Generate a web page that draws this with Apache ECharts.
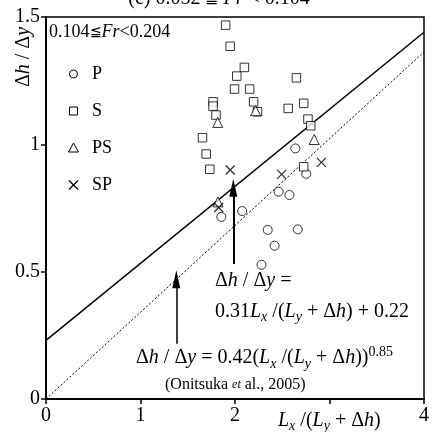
<!DOCTYPE html>
<html><head><meta charset="utf-8">
<script src="https://cdn.jsdelivr.net/npm/echarts@6/dist/echarts.min.js"></script>
<style>html,body{margin:0;padding:0;background:#fff}#c{width:432px;height:432px}</style>
</head><body><div id="c"></div>
<script>
// ---- data ----
const xTickLabels = ['0', '1', '2', '', '4'];
const yTickLabels = ['0', '0.5', '1', '1.5'];
const seriesNames = ['P', 'S', 'PS', 'SP'];
const pData = [[2.639,0.984],[2.754,0.884],[2.461,0.814],[2.576,0.801],[2.076,0.738],[1.855,0.715],[2.346,0.664],[2.664,0.666],[2.419,0.602],[2.280,0.527]];
const sData = [[1.901,1.468],[1.949,1.385],[2.099,1.302],[2.019,1.268],[1.995,1.217],[2.155,1.217],[2.650,1.261],[1.768,1.167],[1.768,1.150],[2.197,1.167],[1.799,1.115],[2.238,1.128],[2.563,1.141],[2.727,1.161],[2.772,1.099],[2.801,1.073],[1.656,1.026],[1.695,0.962],[1.733,0.902],[2.727,0.912]];
const psData = [[1.817,1.086],[2.218,1.132],[2.838,1.019],[1.820,0.774]];
const spData = [[1.949,0.899],[2.493,0.882],[2.914,0.929],[1.827,0.752]];
const fitLine = [[0,0.23],[4,1.44]];
const onitsukaLine = [[0,0],[4,1.363]];
const arrow1 = [[1.982,0.53],[1.982,0.83]];
const arrow2 = [[1.379,0.217],[1.379,0.47]];

const FF = '"Liberation Serif","Times New Roman",serif';
function tok(size, italic, va, lh){
  return {fontFamily:FF, fontSize:size, fontStyle: italic?'italic':'normal', verticalAlign: va||'middle', lineHeight: lh||size, fill:'#000'};
}
function mathRich(size, lh){
  return {
    n: tok(size,false,'middle',lh),
    i: tok(size,true,'middle',lh),
    sub: tok(Math.round(size*0.68),true,'bottom',Math.round(size*0.68)),
    sup: tok(Math.round(size*0.68),false,'top',Math.round(size*0.68)),
    si: tok(Math.round(size*0.75),true,'middle',lh),
    le: {fontFamily:'"DejaVu Serif",serif', fontSize:Math.round(size*0.78), fontWeight:'normal', verticalAlign:'middle', lineHeight:lh, fill:'#000'}
  };
}
function txt(x, y, text, size, lh, align, rot){
  const el = {
    type:'text', x:x, y:y, z:100, silent:true,
    style:{text:text, fontFamily:FF, fontSize:size, lineHeight:lh, fill:'#000',
      textAlign:align||'left', textVerticalAlign:'middle', rich: mathRich(size, lh)}
  };
  if (rot) el.rotation = rot;
  return el;
}

// legend keys drawn next to the series names
const legendX = 73.5, legendTextX = 92, legendY0 = 74, legendStep = 37;
const markStyle = {fill:'#fff', stroke:'#000', lineWidth:1};
function legendKey(idx){
  const cy = legendY0 + idx*legendStep, cx = legendX;
  let shape;
  if (idx === 0) shape = {type:'circle', shape:{cx:cx, cy:cy, r:4}, style:markStyle};
  else if (idx === 1) shape = {type:'rect', shape:{x:cx-4, y:cy-4, width:8, height:8}, style:markStyle};
  else if (idx === 2) shape = {type:'polygon', shape:{points:[[cx,cy-5],[cx+5,cy+4],[cx-5,cy+4]]}, style:markStyle};
  else shape = {type:'group', children:[
    {type:'line', shape:{x1:cx-4.5,y1:cy-4.5,x2:cx+4.5,y2:cy+4.5}, style:{stroke:'#000', lineWidth:1.3}},
    {type:'line', shape:{x1:cx-4.5,y1:cy+4.5,x2:cx+4.5,y2:cy-4.5}, style:{stroke:'#000', lineWidth:1.3}}]};
  shape.silent = true; shape.z = 100;
  return [shape, {type:'text', x:legendTextX, y:cy, z:100, silent:true,
    style:{text:seriesNames[idx], fontFamily:FF, fontSize:18, fill:'#000', textAlign:'left', textVerticalAlign:'middle'}}];
}

const chart = echarts.init(document.getElementById('c'), null, {renderer:'canvas'});
const axisFont = {fontFamily:FF, fontSize:20, color:'#000'};
const crossPath = 'path://M0,0L10,10M0,10L10,0';

const option = {
  animation:false,
  backgroundColor:'#fff',
  grid:{left:46, right:4, top:17, bottom:33, show:true, borderColor:'#000', borderWidth:1.5, backgroundColor:'transparent'},
  xAxis:{type:'value', min:0, max:4, interval:1,
    axisLine:{lineStyle:{color:'#000', width:2}},
    axisTick:{inside:false, length:5, lineStyle:{color:'#000', width:1.5}},
    axisLabel:Object.assign({margin:7, formatter:(v)=>xTickLabels[Math.round(v)]}, axisFont),
    splitLine:{show:false}},
  yAxis:{type:'value', min:0, max:1.5, interval:0.5,
    axisLine:{lineStyle:{color:'#000', width:2}},
    axisTick:{inside:false, length:5, lineStyle:{color:'#000', width:1.5}},
    axisLabel:Object.assign({margin:6, formatter:(v)=>yTickLabels[Math.round(v*2)]}, axisFont),
    splitLine:{show:false}},
  legend:{show:false, data:seriesNames},
  series:[
    {name:'P', type:'scatter', symbol:'circle', symbolSize:9, data:pData,
      itemStyle:{color:'#fff', borderColor:'#000', borderWidth:1}, z:5},
    {name:'S', type:'scatter', symbol:'rect', symbolSize:8.5, data:sData,
      itemStyle:{color:'#fff', borderColor:'#000', borderWidth:1}, z:5},
    {name:'PS', type:'scatter', symbol:'triangle', symbolSize:10, data:psData,
      itemStyle:{color:'#fff', borderColor:'#000', borderWidth:1}, z:5},
    {name:'SP', type:'scatter', symbol:crossPath, symbolSize:9, data:spData,
      itemStyle:{color:'rgba(0,0,0,0)', borderColor:'#000', borderWidth:1.3}, z:5},
    {name:'fit', type:'line', data:fitLine, symbol:'none', silent:true,
      lineStyle:{color:'#000', width:1.5}, z:3,
      markLine:{silent:true, symbol:['none','triangle'], symbolSize:[8,18], label:{show:false},
        lineStyle:{color:'#000', width:2, type:'solid'}, emphasis:{disabled:true},
        data:[[{coord:arrow1[0], symbol:'none'},{coord:arrow1[1], symbol:'triangle', symbolSize:[8,18]}]]}},
    {name:'onitsuka', type:'line', data:onitsukaLine, symbol:'none', silent:true,
      lineStyle:{color:'#000', width:1, type:[2,2]}, z:3,
      markLine:{silent:true, symbol:['none','triangle'], symbolSize:[8,18], label:{show:false},
        lineStyle:{color:'#000', width:1.5, type:'solid'}, emphasis:{disabled:true},
        data:[[{coord:arrow2[0], symbol:'none'},{coord:arrow2[1], symbol:'triangle', symbolSize:[8,18]}]]}}
  ],
  graphic:[
    txt(219, -1, '(c) 0.052 {le|≦} {i|Fr} < 0.104', 20, 22, 'center'),
    txt(49, 32, '0.104{le|≦}{i|Fr}<0.204', 18, 22),
    txt(24, 57, 'Δ{i|h} / Δ{i|y}', 20, 22, 'center', Math.PI/2),
    txt(215, 281, 'Δ{i|h} / Δ{i|y} =', 20, 24),
    txt(215, 312, '0.31{i|L}{sub|x} /({i|L}{sub|y} + Δ{i|h}) + 0.22', 20, 24),
    txt(136, 358, 'Δ{i|h} / Δ{i|y} = 0.42({i|L}{sub|x} /({i|L}{sub|y} + Δ{i|h})){sup|0.85}', 20, 26),
    txt(165, 385, '(Onitsuka {si|et} al., 2005)', 16, 18),
    txt(278, 421, '{i|L}{sub|x} /({i|L}{sub|y} + Δ{i|h})', 20, 24)
  ].concat(legendKey(0), legendKey(1), legendKey(2), legendKey(3))
};
chart.setOption(option);
</script>
</body></html>
